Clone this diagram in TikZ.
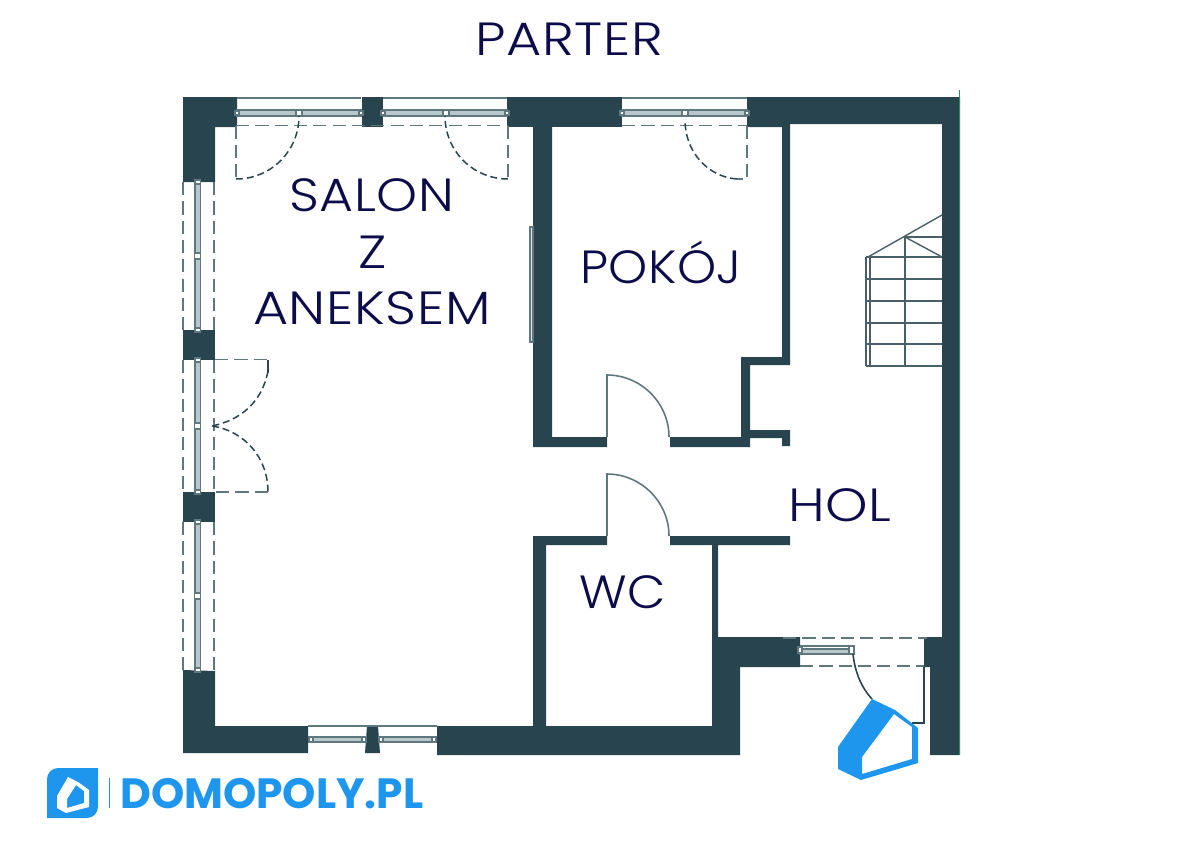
\documentclass[tikz,border=0pt]{standalone}
\usepackage{fontspec}
\setmainfont{Poppins}
\newfontfamily\planfont[UprightFont=* Light,FakeStretch=1.16,LetterSpace=1.5]{Poppins}
\newfontfamily\planfontmid[UprightFont=* Light,FakeStretch=1.12,LetterSpace=1.0]{Poppins}
\newfontfamily\planfontnar[UprightFont=* Light,FakeStretch=1.07,LetterSpace=0.5]{Poppins}
\definecolor{wallcol}{HTML}{27444F}
\definecolor{framecol}{HTML}{5F7880}
\definecolor{glasscol}{HTML}{B9C6CA}
\definecolor{labelcol}{HTML}{0C0C4A}
\definecolor{brandcol}{HTML}{1E96EE}
\definecolor{edgecol}{HTML}{2E8B6E}
\tikzset{
    wall/.style={fill=wallcol,draw=none},
    frameline/.style={draw=framecol,line width=0.8pt},
    dashline/.style={draw=framecol,line width=0.85pt,dash pattern=on 7.5pt off 3.5pt},
    doorline/.style={draw=wallcol,line width=0.85pt,dash pattern=on 4pt off 2.2pt},
    solidarc/.style={draw=framecol,line width=0.9pt},
    stairline/.style={draw=wallcol!85!white,line width=0.8pt},
    knob/.style={fill=white,draw=framecol,line width=0.6pt},
    planlabel/.style={anchor=base,text=labelcol,font=\planfont\fontsize{26.5}{26.5}\selectfont,inner sep=0pt},
    midlabel/.style={planlabel,font=\planfontmid\fontsize{26.5}{26.5}\selectfont},
    narlabel/.style={planlabel,font=\planfontnar\fontsize{26.5}{26.5}\selectfont},
}
\begin{document}
\begin{tikzpicture}[x=0.02cm,y=-0.02cm]
    \useasboundingbox (0,0) rectangle (1200,849);

    % Outer and inner walls
    \fill[wall] (183,97) -- (237,97) -- (237,127) -- (215,127) -- (215,182) -- (183,182) -- cycle;
    \fill[wall] (362,97) rectangle (383,127);
    \fill[wall] (507,97) rectangle (622,127);
    \fill[wall] (747,97) -- (960,97) -- (960,755) -- (930,755) -- (930,667) -- (924,667) -- (924,637)
        -- (942,637) -- (942,124) -- (790,124) -- (790,365) -- (750,365) -- (750,430) -- (790,430)
        -- (790,446) -- (782,446) -- (782,438) -- (750,438) -- (750,447) -- (670,447) -- (670,437)
        -- (741,437) -- (741,357) -- (782,357) -- (782,127) -- (747,127) -- cycle;
    \fill[wall] (533,127) -- (552,127) -- (552,437) -- (607,437) -- (607,447) -- (533,447) -- cycle;
    \fill[wall] (533,536) -- (607,536) -- (607,545) -- (546,545) -- (546,726) -- (712,726)
        -- (712,545) -- (670,545) -- (670,536) -- (790,536) -- (790,545) -- (718,545) -- (718,637)
        -- (800,637) -- (800,667) -- (740,667) -- (740,755) -- (437,755) -- (437,726) -- (533,726) -- cycle;
    \fill[wall] (183,330) rectangle (215,360);
    \fill[wall] (183,492) rectangle (215,522);
    \fill[wall] (183,670) -- (215,671) -- (215,726) -- (308,726) -- (308,753) -- (183,753) -- cycle;
    \fill[wall] (367,726) -- (378,726) -- (380,753) -- (365,753) -- cycle;

    % Green edge on the right
    \draw[edgecol,line width=0.5pt] (959.5,90) -- (959.5,755);

    % Windows in the top wall
    \foreach \xa/\xm/\xb in {237/299/361,383/446/507,622/685/747} {
        \draw[frameline] (\xa,98) -- (\xb,98);
        \draw[frameline,fill=glasscol] (\xa,110) rectangle (\xb,116);
        \draw[knob] (\xa-2,111) rectangle (\xa+2,115);
        \draw[knob] (\xm-3,110) rectangle (\xm+3,116);
        \draw[knob] (\xb-2,111) rectangle (\xb+2,115);
    }

    % Windows in the left wall
    \foreach \ya/\ym/\yb in {182/256/330,360/426/492,522/596/670} {
        \draw[dashline] (183,\ya) -- (183,\yb);
        \draw[dashline] (214,\ya) -- (214,\yb);
        \draw[frameline,fill=glasscol] (195,\ya) rectangle (200.5,\yb);
        \draw[knob] (195,\ya-2) rectangle (200.5,\ya+2);
        \draw[knob] (194.5,\ym-3) rectangle (200.5,\ym+3);
        \draw[knob] (195,\yb-2) rectangle (200.5,\yb+2);
    }

    % Windows in the bottom wall
    \draw[frameline] (308,726) -- (437,726);
    \foreach \xa/\xb in {308/367,378/437} {
        \draw[frameline,fill=glasscol] (\xa+2,737) rectangle (\xb-2,742);
        \draw[knob] (\xa+1,737) rectangle (\xa+5,742);
        \draw[knob] (\xb-5,737) rectangle (\xb-1,742);
    }

    % Sliding panel on the salon wall
    \draw[frameline,fill=glasscol!50!white] (530,227) rectangle (533,342);

    % Doors to the top windows
    \draw[dashline] (236,125.5) -- (507,125.5);
    \draw[dashline] (622,125.5) -- (747,125.5);
    \draw[dashline] (236,125.5) -- (236,179);
    \draw[doorline] (236,179) .. controls (271,179) and (299,151) .. (299,116);
    \draw[dashline] (508,125.5) -- (508,179);
    \draw[doorline] (508,179) .. controls (473,179) and (445,151) .. (445,116);
    \draw[dashline] (747,125.5) -- (747,179) -- (737,179);
    \draw[doorline] (737,179) .. controls (708,177) and (685,152) .. (685,120);

    % Double door on the left
    \draw[dashline] (215,359.5) -- (268,359.5);
    \draw[wallcol,line width=0.9pt] (268,359.5) -- (268,373);
    \draw[doorline] (268,371) .. controls (262,402) and (241,420) .. (212,426);
    \draw[doorline] (212,426) .. controls (245,431) and (268,458) .. (268,492);
    \draw[dashline] (268,492) -- (215,492);

    % Doors of the pokoj and the wc
    \draw[solidarc] (607,437) -- (607,375) .. controls (641,375) and (669,403) .. (669,437);
    \draw[solidarc] (607,536) -- (607,474) .. controls (641,474) and (669,502) .. (669,536);

    % Stairs
    \foreach \ys in {257,279,301,323,344,366} {
        \draw[stairline] (866,\ys) -- (942,\ys);
    }
    \draw[stairline] (866,257) -- (866,366);
    \draw[stairline] (870,257) -- (870,366);
    \draw[stairline] (905,237) -- (905,366);
    \draw[stairline] (868,257) -- (942,215);
    \draw[stairline] (905,237) -- (942,237);
    \draw[stairline] (905,237) -- (942,257);

    % Entrance
    \draw[dashline] (783,638) -- (927,638);
    \draw[dashline] (800,666) -- (924,666);
    \draw[frameline] (800,646) -- (853,646);
    \draw[frameline,fill=glasscol] (800,649) rectangle (853,654);
    \draw[knob] (798,647) rectangle (802,653);
    \draw[knob] (849,646) rectangle (854,654);
    \draw[wallcol,line width=0.9pt] (853,654) .. controls (855,672) and (861,687) .. (872,699);
    \draw[wallcol,line width=0.9pt] (924,667) -- (924,723) -- (912,723);

    % Roof mark at the entrance
    \fill[brandcol,even odd rule] (872,699) -- (895,710) -- (918,728) -- (918,763) -- (861,780) -- (838,769) -- (838,747) -- cycle
        (894,714) -- (912,727) -- (912,759) -- (862,774) -- (862,757) -- cycle;

    % Brand in the corner
    \fill[brandcol] (47,818) -- (47,779) .. controls (47,773) and (52,768) .. (58,768) -- (98,768)
        -- (98,807) .. controls (98,813) and (93,818) .. (87,818) -- cycle;
    \fill[white,even odd rule] (68,777) -- (78,782) -- (89,790) -- (89,807) -- (66,813) -- (57,808) -- (57,796) -- cycle
        (76,785) -- (84,791) -- (84,803) -- (67,808) -- (67,799) -- cycle;
    \draw[brandcol,line width=0.5pt] (109.5,778) -- (109.5,808);
    \node[anchor=base west,text=brandcol,inner sep=0pt,font=\fontsize{24.1}{24.1}\selectfont\bfseries] (brand) at (120,808) {DOMOPOLY.PL};

    % Room names
    \node[planlabel] (title) at (569,55) {PARTER};
    \node[midlabel] (salon) at (372,211) {SALON};
    \node[planlabel] (z) at (373,268) {Z};
    \node[planlabel] (aneksem) at (372,324) {ANEKSEM};
    \node[narlabel] (pokoj) at (661,283) {POKÓJ};
    \node[planlabel] (hol) at (840,521) {HOL};
    \node[narlabel] (wc) at (623,608) {WC};

\end{tikzpicture}
\end{document}
